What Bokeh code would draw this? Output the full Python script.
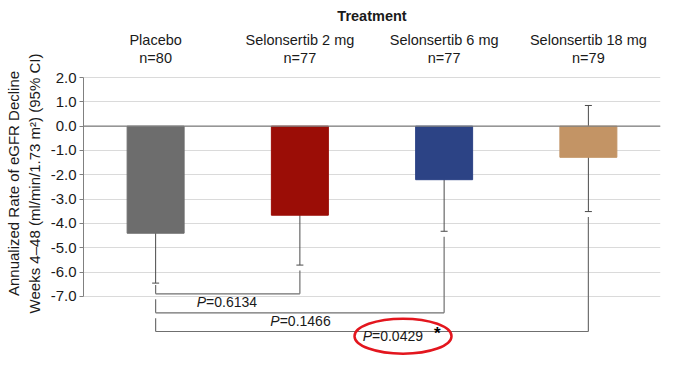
from bokeh.plotting import figure
from bokeh.models import (Range1d, FixedTicker, NumeralTickFormatter,
                          ColumnDataSource, Whisker, TeeHead, Span)
from bokeh.core.properties import value
from bokeh.embed import file_html
from bokeh.resources import INLINE

# ---------------- data ----------------
groups = ["Placebo", "Selonsertib 2 mg", "Selonsertib 6 mg", "Selonsertib 18 mg"]
n_labels = ["n=80", "n=77", "n=77", "n=79"]
rate = [-4.40, -3.66, -2.20, -1.28]
ci_upper = [-2.37, -1.67, -0.05, 0.85]
ci_lower = [-6.45, -5.71, -4.32, -3.51]
bar_colors = ["#6d6d6d", "#9b0d06", "#2c4385", "#c39465"]
compare_with = ["Selonsertib 2 mg", "Selonsertib 6 mg", "Selonsertib 18 mg"]
p_values = ["0.6134", "0.1466", "0.0429"]
significant = [False, False, True]
y_ticks = [2.0, 1.0, 0.0, -1.0, -2.0, -3.0, -4.0, -5.0, -6.0, -7.0]

# ---------------- layout constants ----------------
FONT = "Liberation Sans"
TXT = "#1a1a1a"
bracket_y = [-6.89, -7.67, -8.44]
label_y = [-7.24, -8.02, -8.64]
label_x = [0.85, 1.36, 2.0]
gap = 0.22

# category positions (slot centres) on a numeric axis
pos = [i + 0.5 for i in range(len(groups))]

p = figure(width=668, height=380,
           x_range=Range1d(0, len(groups)),
           y_range=Range1d(-9.549, 4.836),
           x_axis_location=None,
           output_backend="svg", toolbar_location=None,
           min_border_left=83, min_border_right=8,
           min_border_top=8, min_border_bottom=22)
p.outline_line_color = None
p.background_fill_color = "white"

# y axis
ax = p.yaxis[0]
ax.ticker = FixedTicker(ticks=y_ticks)
ax.formatter = NumeralTickFormatter(format="0.0")
ax.bounds = (-7, 2)
ax.minor_tick_line_color = None
ax.major_tick_in = 0
ax.major_tick_out = 4
ax.major_tick_line_color = "#808080"
ax.axis_line_color = "#808080"
ax.major_label_standoff = 3
ax.major_label_text_font = FONT
ax.major_label_text_font_size = "15px"
ax.major_label_text_color = TXT
ax.axis_label = "Annualized Rate of eGFR Decline\nWeeks 4\u201348 (ml/min/1.73 m\u00b2) (95% CI)"
ax.axis_label_text_font = FONT
ax.axis_label_text_font_size = "15px"
ax.axis_label_text_font_style = "normal"
ax.axis_label_text_color = TXT
ax.axis_label_standoff = 5

p.ygrid.ticker = FixedTicker(ticks=y_ticks)
p.ygrid.bounds = (-7, 2)
p.ygrid.grid_line_color = "#dadada"
p.xgrid.grid_line_color = None

# bars
src = ColumnDataSource(dict(x=pos, rate=rate, upper=ci_upper,
                            lower=ci_lower, color=bar_colors))
p.vbar(x="x", top="rate", bottom=0, width=0.395, fill_color="color",
       line_color="color", source=src)

p.add_layout(Span(location=0, dimension="width", line_color="#7f7f7f", line_width=1.2))

p.add_layout(Whisker(base="x", upper="upper", lower="lower", source=src,
                     line_color="#4a4a4a", line_width=1,
                     upper_head=TeeHead(size=7, line_color="#4a4a4a"),
                     lower_head=TeeHead(size=7, line_color="#4a4a4a")))

# comparison brackets
x0s, y0s, x1s, y1s = [], [], [], []
ref_x = pos[groups.index("Placebo")]
prev = ci_lower[0] - 0.08
for cmp, lvl in zip(compare_with, bracket_y):
    ic = groups.index(cmp)
    cx = pos[ic]
    x0s.append(ref_x); y0s.append(prev); x1s.append(ref_x); y1s.append(lvl)
    x0s.append(ref_x); y0s.append(lvl); x1s.append(cx); y1s.append(lvl)
    x0s.append(cx); y0s.append(ci_lower[ic] - gap); x1s.append(cx); y1s.append(lvl)
    prev = lvl - gap
p.segment(x0=x0s, y0=y0s, x1=x1s, y1=y1s, line_color="#6f6f6f", line_width=1.2)

# p-value labels
p.text(x=label_x, y=label_y, text=["P"] * len(p_values),
       text_font=value(FONT), text_font_size="14px", text_font_style="italic",
       text_align="right", text_baseline="middle", text_color=TXT)
p.text(x=label_x, y=label_y, text=["=" + v for v in p_values],
       text_font=value(FONT), text_font_size="14px",
       text_align="left", text_baseline="middle", text_color=TXT)
sig_idx = [i for i, s in enumerate(significant) if s]
p.text(x=[label_x[i] + 0.452 for i in sig_idx], y=[label_y[i] + 0.12 for i in sig_idx],
       text=["*"] * len(sig_idx),
       text_font=value(FONT), text_font_size="17px", text_font_style="bold",
       text_align="center", text_baseline="middle", text_color="#000000")
p.ellipse(x=[label_x[i] + 0.215 for i in sig_idx], y=[label_y[i] + 0.01 for i in sig_idx],
          width=97, height=35, width_units="screen", height_units="screen",
          fill_color=None, line_color="#e3161e", line_width=2.5)

# header labels
p.text(x=pos, y=[3.56] * len(groups), text=groups,
       text_font=value(FONT), text_font_size="14.5px",
       text_align="center", text_baseline="middle", text_color=TXT)
p.text(x=pos, y=[2.80] * len(groups), text=n_labels,
       text_font=value(FONT), text_font_size="14.5px",
       text_align="center", text_baseline="middle", text_color=TXT)
p.text(x=[len(groups) / 2], y=[4.51], text=["Treatment"],
       text_font=value(FONT), text_font_size="14.5px", text_font_style="bold",
       text_align="center", text_baseline="middle", text_color=TXT)

open("out.html", "w").write(file_html(p, INLINE))
